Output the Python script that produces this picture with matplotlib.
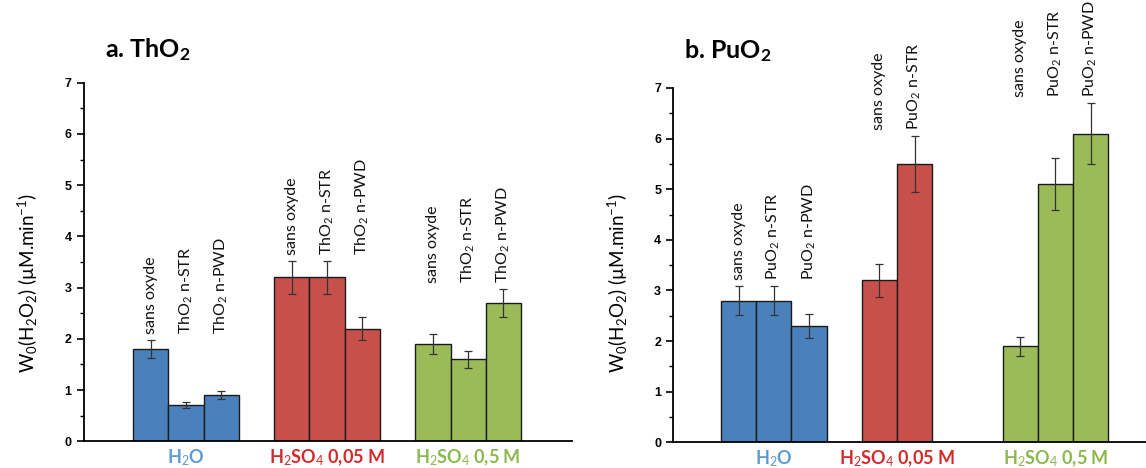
import matplotlib
matplotlib.use('Agg')
import matplotlib.pyplot as plt
from matplotlib.ticker import MultipleLocator
import matplotlib.transforms as mtransforms

plt.rcParams['font.family'] = ['Lato', 'DejaVu Sans']
plt.rcParams['mathtext.fontset'] = 'custom'
plt.rcParams['mathtext.rm'] = 'Lato'
plt.rcParams['mathtext.it'] = 'Lato:italic'
plt.rcParams['mathtext.bf'] = 'Lato:bold'

# groupes de solutions
groupes = [r'H$_2$O', r'H$_2$SO$_4$ 0,05 M', r'H$_2$SO$_4$ 0,5 M']
couleurs = ['#4a81bd', '#c8504b', '#9bbb59']
couleurs_texte = ['#5b9bd5', '#d42a2a', '#8cb84e']

# a. ThO2
tho2_noms = [['sans oxyde', r'ThO$_2$ n-STR', r'ThO$_2$ n-PWD'],
             ['sans oxyde', r'ThO$_2$ n-STR', r'ThO$_2$ n-PWD'],
             ['sans oxyde', r'ThO$_2$ n-STR', r'ThO$_2$ n-PWD']]
tho2_w0 = [[1.8, 0.7, 0.9], [3.2, 3.2, 2.2], [1.9, 1.6, 2.7]]
tho2_err = [[0.18, 0.06, 0.08], [0.32, 0.32, 0.22], [0.19, 0.16, 0.27]]

# b. PuO2
puo2_noms = [['sans oxyde', r'PuO$_2$ n-STR', r'PuO$_2$ n-PWD'],
             ['sans oxyde', r'PuO$_2$ n-STR'],
             ['sans oxyde', r'PuO$_2$ n-STR', r'PuO$_2$ n-PWD']]
puo2_w0 = [[2.8, 2.8, 2.3], [3.2, 5.5], [1.9, 5.1, 6.1]]
puo2_err = [[0.28, 0.28, 0.23], [0.32, 0.55], [0.19, 0.51, 0.61]]


def trace(ax, noms, w0, err, xlim, ylab_y):
    trans = mtransforms.blended_transform_factory(ax.transData, ax.transAxes)
    for g in range(len(w0)):
        x = [2 + 4 * g + i for i in range(len(w0[g]))]
        ax.bar(x, w0[g], width=1.0, color=couleurs[g], edgecolor='#1a1a1a',
               linewidth=1.0, zorder=2)
        ax.errorbar(x, w0[g], yerr=err[g], fmt='none', ecolor='#333333',
                    elinewidth=0.9, capsize=3, capthick=0.9, zorder=3)
        haut = max(v + e for v, e in zip(w0[g], err[g])) + 0.12
        for xi, nom in zip(x, noms[g]):
            ax.text(xi, haut, nom, rotation=90, ha='center', va='bottom',
                    fontsize=11.5, color='#111111', clip_on=False)
        centre = (x[0] + x[-1]) / 2
        ax.text(centre, -0.047, groupes[g], transform=trans, ha='center',
                va='center', fontsize=13, fontweight='bold', color=couleurs_texte[g])

    ax.set_xlim(*xlim)
    ax.set_ylim(0, 7)
    ax.yaxis.set_major_locator(MultipleLocator(1))
    ax.yaxis.set_minor_locator(MultipleLocator(0.5))
    ax.set_xticks([])
    ax.spines['top'].set_visible(False)
    ax.spines['right'].set_visible(False)
    ax.spines['left'].set_linewidth(1.3)
    ax.spines['bottom'].set_linewidth(1.3)
    ax.tick_params(axis='y', which='major', length=5, width=1.2, direction='out')
    ax.tick_params(axis='y', which='minor', length=3, width=1.0, direction='out')
    for lab in ax.get_yticklabels():
        lab.set_fontfamily('Liberation Sans')
        lab.set_fontweight('bold')
        lab.set_fontsize(9)
    ax.set_ylabel('W$_0$(H$_2$O$_2$) (µM.min$^{-1}$)', fontsize=13.5)
    ax.yaxis.set_label_coords(-0.09, ylab_y)


fig = plt.figure(figsize=(11.46, 4.68), dpi=100)
ax1 = fig.add_axes([0.0729, 0.0571, 0.4265, 0.7662])
ax2 = fig.add_axes([0.5873, 0.0549, 0.4127, 0.7571])

trace(ax1, tho2_noms, tho2_w0, tho2_err, (0.1, 13.95), 0.44)
trace(ax2, puo2_noms, puo2_w0, puo2_err, (0.14, 13.57), 0.45)

fig.text(105 / 1146, 1 - 57 / 468, r'a. ThO$_\mathbf{2}$', fontsize=18,
         fontweight='bold', va='baseline')
fig.text(684 / 1146, 1 - 58 / 468, r'b. PuO$_\mathbf{2}$', fontsize=18,
         fontweight='bold', va='baseline')

fig.savefig('out.png', dpi=100)
